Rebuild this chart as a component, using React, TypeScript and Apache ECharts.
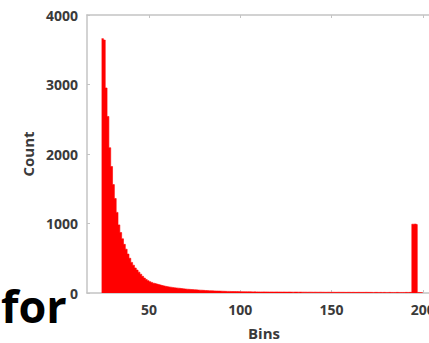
import React, { useEffect, useRef } from "react";
import * as echarts from "echarts";

// Histogram bins: first bin starts at 24, each bin is 1 unit wide
const BIN_START = 24;
const BIN_WIDTH = 1;
const counts: number[] = [
  3660, 3640, 2950, 2540, 2090, 1820, 1560, 1360, 1160, 980, // 24-33
  870, 780, 700, 630, 560, 500, 440, 400, 360, 330, // 34-43
  300, 270, 240, 215, 195, 178, 163, 152, 140, 132, // 44-53
  125, 118, 110, 104, 98, 92, 88, 84, 80, 76, // 54-63
  73, 70, 67, 64, 60, 58, 55, 53, 51, 49, // 64-73
  47, 45, 43, 41, 40, 38, 36, 35, 33, 32, // 74-83
  31, 30, 29, 28, 27, 26, 25, 24, 23, 23, // 84-93
  22, 21, 21, 20, 20, 19, 19, // 94-100
  18, 18, 17, 18, 17, 16, 17, 16, 16, 15, // 101-110
  15, 16, 15, 15, 14, 15, 14, 14, 15, 14, // 111-120
  14, 13, 14, 13, 13, 14, 13, 12, 13, 13, // 121-130
  12, 13, 12, 12, 12, 11, 12, 12, 11, 12, // 131-140
  11, 11, 12, 11, 11, 10, 11, 11, 10, 11, // 141-150
  10, 10, 11, 10, 10, 10, 9, 10, 10, 9, // 151-160
  10, 9, 9, 10, 9, 9, 9, 10, 9, 9, // 161-170
  9, 8, 9, 9, 8, 9, 8, 9, 8, 8, // 171-180
  9, 8, 8, 8, 9, 8, 8, 8, 8, 9, // 181-190
  8, 9, 10, // 191-193
  990, 992, 985, // 194-196
  8, 6, 5, // 197-199
];

const xTicks = [50, 100, 150, 200];
const xLabel = "Bins";
const yLabel = "Count";
const caption = "for";

const AXIS_COLOR = "#c4c4c4";
const LABEL_COLOR = "#3a3a3a";
const FONT = "'Open Sans', 'Noto Sans', sans-serif";

export default function App() {
  const ref = useRef<HTMLDivElement>(null);
  useEffect(() => {
    if (!ref.current) return;
    const chart = echarts.init(ref.current, null, { renderer: "svg" });
    // step outline: each bin start with its count, plus closing edge of the last bin
    const data = counts.map((c, i) => [BIN_START + i * BIN_WIDTH, c]);
    data.push([BIN_START + counts.length * BIN_WIDTH, counts[counts.length - 1]]);
    chart.setOption({
      animation: false,
      backgroundColor: "#ffffff",
      grid: {
        left: 87,
        right: -12,
        top: 15,
        bottom: 50,
        containLabel: false,
        outerBoundsMode: "none",
      },
      xAxis: [
        {
          type: "value",
          min: 16,
          max: 210,
          position: "bottom",
          name: xLabel,
          nameLocation: "middle",
          nameGap: 32,
          nameTextStyle: { fontFamily: FONT, fontWeight: "bold", fontSize: 15, color: LABEL_COLOR },
          axisLine: { show: true, onZero: false, lineStyle: { color: AXIS_COLOR, width: 1.5 } },
          axisTick: { show: true, inside: true, length: 3, customValues: xTicks, lineStyle: { color: AXIS_COLOR } },
          axisLabel: {
            customValues: xTicks,
            fontFamily: FONT,
            fontWeight: "bold",
            fontSize: 14,
            color: LABEL_COLOR,
            margin: 9,
            formatter: (v: number) => String(v),
          },
          splitLine: { show: false },
        },
        {
          type: "value",
          min: 16,
          max: 210,
          position: "top",
          axisLine: { show: true, onZero: false, lineStyle: { color: AXIS_COLOR, width: 1.5 } },
          axisTick: { show: true, inside: true, length: 3, customValues: xTicks, lineStyle: { color: AXIS_COLOR } },
          axisLabel: { show: false },
          splitLine: { show: false },
        },
      ],
      yAxis: {
        type: "value",
        min: 0,
        max: 4000,
        interval: 1000,
        name: yLabel,
        nameLocation: "middle",
        nameGap: 50,
        nameTextStyle: { fontFamily: FONT, fontWeight: "bold", fontSize: 15, color: LABEL_COLOR },
        axisLine: { show: true, lineStyle: { color: AXIS_COLOR, width: 1.5 } },
        axisTick: { show: true, inside: true, length: 3, lineStyle: { color: AXIS_COLOR } },
        axisLabel: {
          fontFamily: FONT,
          fontWeight: "bold",
          fontSize: 14,
          color: LABEL_COLOR,
          margin: 9,
          formatter: (v: number) => String(v),
        },
        splitLine: { show: false },
      },
      series: [
        {
          type: "line",
          xAxisIndex: 0,
          yAxisIndex: 0,
          data,
          step: "end",
          symbol: "none",
          lineStyle: { color: "#ff0000", width: 0.6 },
          areaStyle: { color: "#ff0000", opacity: 1, origin: 0 },
          z: 1,
        },
      ],
      graphic: [
        {
          type: "text",
          left: 1,
          top: 283,
          style: {
            text: caption,
            fontFamily: FONT,
            fontWeight: "bold",
            fontSize: 45,
            fill: "#000000",
          },
        },
      ],
    });
    return () => chart.dispose();
  }, []);
  return (
    <div
      ref={ref}
      style={{ position: "fixed", left: 0, top: 0, width: 429, height: 343 }}
    />
  );
}
